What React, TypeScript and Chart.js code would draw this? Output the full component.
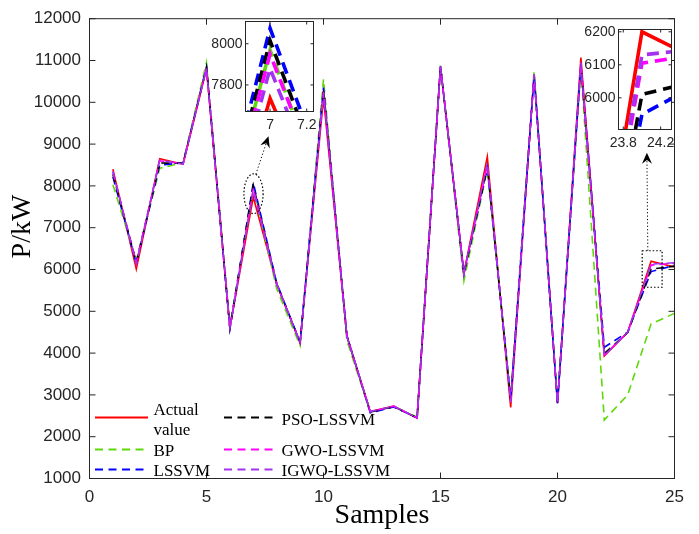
import React, { useEffect, useRef } from 'react';
import { Chart, registerables } from 'chart.js';

Chart.register(...registerables);

// ---------------- data ----------------
const samples = [1, 2, 3, 4, 5, 6, 7, 8, 9, 10, 11, 12, 13, 14, 15, 16, 17, 18, 19, 20, 21, 22, 23, 24, 25];
const actualValue = [8400, 6010, 8650, 8520, 10800, 4600, 7735, 5650, 4250, 10100, 4400, 2600, 2730, 2450, 10850, 5920, 8700, 2700, 10670, 2800, 11070, 3930, 4500, 6200, 6060];
const bpValues = [8030, 6220, 8420, 8560, 10950, 4650, 7970, 5540, 4180, 10550, 4300, 2580, 2720, 2470, 10880, 5730, 8400, 2950, 10750, 2820, 10820, 2400, 3000, 4700, 4950];
const lssvmValues = [8220, 6150, 8500, 8550, 10850, 4580, 8075, 5680, 4260, 10350, 4420, 2570, 2710, 2450, 10860, 5880, 8430, 2900, 10650, 2800, 10900, 4140, 4500, 5950, 6100];
const psoValues = [8280, 6170, 8550, 8540, 10830, 4600, 8015, 5660, 4250, 10320, 4410, 2590, 2720, 2450, 10850, 5900, 8450, 2880, 10660, 2800, 10880, 3990, 4490, 6010, 6080];
const gwoValues = [8330, 6160, 8600, 8530, 10820, 4600, 7950, 5650, 4250, 10250, 4400, 2600, 2730, 2450, 10850, 5910, 8500, 2850, 10670, 2800, 10920, 3950, 4500, 6105, 6150];
const igwoValues = [8350, 6130, 8620, 8520, 10810, 4600, 7880, 5650, 4250, 10220, 4400, 2600, 2730, 2450, 10850, 5915, 8550, 2820, 10670, 2800, 10950, 3940, 4500, 6130, 6160];

const seriesLabels = ['Actual value', 'BP', 'LSSVM', 'PSO-LSSVM', 'GWO-LSSVM', 'IGWO-LSSVM'];
const seriesColors = ['#ff0000', '#5fd80a', '#0000ff', '#000000', '#ff00ff', '#a333f0'];
const series = [actualValue, bpValues, lssvmValues, psoValues, gwoValues, igwoValues];

const mainXTicks = [0, 5, 10, 15, 20, 25];
const mainYTicks = [1000, 2000, 3000, 4000, 5000, 6000, 7000, 8000, 9000, 10000, 11000, 12000];
const inset1XTicks = [7, 7.2];
const inset1YTicks = [7800, 8000];
const inset2XTicks = [23.8, 24.2];
const inset2YTicks = [6000, 6100, 6200];

const xTitle = 'Samples';
const yTitle = 'P/kW';

const SANS = '"Liberation Sans", Arial, sans-serif';
const SERIF = '"Liberation Serif", "Times New Roman", serif';
const AXIS_COLOR = '#262626';

function makeDatasets(width: number, dash: number[]) {
  return series.map((vals, i) => ({
    label: seriesLabels[i],
    data: samples.map((s, j) => ({ x: s, y: vals[j] })),
    borderColor: seriesColors[i],
    backgroundColor: seriesColors[i],
    borderWidth: width,
    borderDash: i === 0 ? [] : dash,
    pointRadius: 0,
    tension: 0,
    fill: false,
    order: series.length - 1 - i,
    clip: 0,
  }));
}

const fmt = (v: any) => `${+Number(v).toFixed(1)}`;

function framePlugin(xt: number[], yt: number[], len: number) {
  return {
    id: 'frame',
    beforeDraw(chart: any) {
      const { ctx, chartArea: a } = chart;
      ctx.save();
      ctx.fillStyle = '#ffffff';
      ctx.fillRect(a.left, a.top, a.right - a.left, a.bottom - a.top);
      ctx.restore();
    },
    afterDraw(chart: any) {
      const { ctx, chartArea: a, scales } = chart;
      ctx.save();
      ctx.strokeStyle = AXIS_COLOR;
      ctx.lineWidth = 1;
      ctx.setLineDash([]);
      ctx.strokeRect(a.left, a.top, a.right - a.left, a.bottom - a.top);
      ctx.beginPath();
      xt.forEach((v) => {
        const p = scales.x.getPixelForValue(v);
        ctx.moveTo(p, a.bottom);
        ctx.lineTo(p, a.bottom - len);
        ctx.moveTo(p, a.top);
        ctx.lineTo(p, a.top + len);
      });
      yt.forEach((v) => {
        const p = scales.y.getPixelForValue(v);
        ctx.moveTo(a.left, p);
        ctx.lineTo(a.left + len, p);
        ctx.moveTo(a.right, p);
        ctx.lineTo(a.right - len, p);
      });
      ctx.stroke();
      ctx.restore();
    },
  };
}

function drawArrow(ctx: CanvasRenderingContext2D, x0: number, y0: number, x1: number, y1: number) {
  const dx = x1 - x0;
  const dy = y1 - y0;
  const l = Math.hypot(dx, dy);
  const ux = dx / l;
  const uy = dy / l;
  const nx = -uy;
  const ny = ux;
  const L = 11;
  const W = 5;
  const nxp = x1 - ux * L * 0.65;
  const nyp = y1 - uy * L * 0.65;
  ctx.save();
  ctx.strokeStyle = '#000';
  ctx.lineWidth = 1;
  ctx.setLineDash([1.2, 2.2]);
  ctx.beginPath();
  ctx.moveTo(x0, y0);
  ctx.lineTo(nxp, nyp);
  ctx.stroke();
  ctx.setLineDash([]);
  ctx.fillStyle = '#000';
  ctx.beginPath();
  ctx.moveTo(x1, y1);
  ctx.lineTo(x1 - ux * L + nx * W, y1 - uy * L + ny * W);
  ctx.lineTo(nxp, nyp);
  ctx.lineTo(x1 - ux * L - nx * W, y1 - uy * L - ny * W);
  ctx.closePath();
  ctx.fill();
  ctx.restore();
}

const mainDecor = {
  id: 'mainDecor',
  afterDraw(chart: any) {
    const { ctx, chartArea: a, scales } = chart;
    const X = (v: number) => scales.x.getPixelForValue(v);
    const Y = (v: number) => scales.y.getPixelForValue(v);
    ctx.save();

    // zoom markers
    ctx.strokeStyle = '#000';
    ctx.lineWidth = 1.2;
    ctx.setLineDash([1.5, 2]);
    ctx.beginPath();
    const cx = X(7.01), cy = Y(7813);
    ctx.ellipse(cx, cy, X(7.42) - X(7.01), Y(7813) - Y(8289), 0, 0, Math.PI * 2);
    ctx.stroke();
    ctx.beginPath();
    ctx.rect(X(23.62), Y(6449), X(24.47) - X(23.62), Y(5575) - Y(6449));
    ctx.stroke();
    ctx.restore();
    drawArrow(ctx, X(7.11), Y(8281), X(7.65), Y(9185));
    drawArrow(ctx, X(23.86), Y(6449), X(23.82), Y(8793));

    // legend
    ctx.save();
    const rowsLine = [a.bottom - 61, a.bottom - 29, a.bottom - 9];
    const rowsText = [a.bottom - 54, a.bottom - 22.5, a.bottom - 2.5];
    ctx.font = `17px ${SERIF}`;
    ctx.textBaseline = 'alphabetic';
    ctx.textAlign = 'left';
    seriesLabels.forEach((lab, i) => {
      const col = i < 3 ? 0 : 1;
      const row = i % 3;
      const x0 = col === 0 ? a.left + 5.5 : a.left + 134.5;
      const x1 = col === 0 ? a.left + 58.5 : a.left + 184;
      const tx = col === 0 ? a.left + 64 : a.left + 192;
      ctx.strokeStyle = seriesColors[i];
      ctx.lineWidth = 1.8;
      ctx.setLineDash(i === 0 ? [] : [8, 5.5]);
      ctx.beginPath();
      ctx.moveTo(x0, rowsLine[row]);
      ctx.lineTo(x1, rowsLine[row]);
      ctx.stroke();
      ctx.fillStyle = '#000';
      if (i === 0) {
        const parts = lab.split(' ');
        ctx.fillText(parts[0], tx, a.bottom - 64);
        ctx.fillText(parts[1], tx, a.bottom - 44);
      } else {
        ctx.fillText(lab, tx, rowsText[row]);
      }
    });
    ctx.restore();

    // axis titles
    ctx.save();
    ctx.fillStyle = '#000';
    ctx.font = `28px ${SERIF}`;
    ctx.textAlign = 'center';
    ctx.textBaseline = 'middle';
    ctx.fillText(xTitle, (a.left + a.right) / 2, 516);
    ctx.translate(23, 226.5);
    ctx.rotate(-Math.PI / 2);
    ctx.fillText(yTitle, 0, 0);
    ctx.restore();
  },
};

function insetOptions(xmin: number, xmax: number, ymin: number, ymax: number, xt: number[], yt: number[], pad: any, yW: number, xH: number) {
  return {
    responsive: false,
    animation: false as const,
    events: [],
    layout: { padding: pad },
    plugins: { legend: { display: false }, tooltip: { enabled: false } },
    scales: {
      x: {
        type: 'linear' as const,
        min: xmin,
        max: xmax,
        grid: { display: false, drawTicks: false },
        border: { display: false },
        afterBuildTicks: (s: any) => { s.ticks = xt.map((v) => ({ value: v })); },
        afterFit: (s: any) => { s.height = xH; },
        ticks: { font: { family: SANS, size: 14 }, color: AXIS_COLOR, padding: 5, maxRotation: 0, autoSkip: false, callback: fmt },
      },
      y: {
        type: 'linear' as const,
        min: ymin,
        max: ymax,
        grid: { display: false, drawTicks: false },
        border: { display: false },
        afterBuildTicks: (s: any) => { s.ticks = yt.map((v) => ({ value: v })); },
        afterFit: (s: any) => { s.width = yW; },
        ticks: { font: { family: SANS, size: 14 }, color: AXIS_COLOR, padding: 3, autoSkip: false, callback: fmt },
      },
    },
  };
}

export default function App() {
  const mainRef = useRef<HTMLCanvasElement>(null);
  const in1Ref = useRef<HTMLCanvasElement>(null);
  const in2Ref = useRef<HTMLCanvasElement>(null);

  useEffect(() => {
    const charts: Chart[] = [];
    charts.push(
      new Chart(mainRef.current as HTMLCanvasElement, {
        type: 'line',
        data: { datasets: makeDatasets(1.6, [8, 5]) as any },
        options: {
          responsive: false,
          animation: false,
          events: [],
          layout: { padding: { left: 0, top: 16.5, right: 24.5, bottom: 0 } },
          plugins: { legend: { display: false }, tooltip: { enabled: false } },
          scales: {
            x: {
              type: 'linear',
              min: 0,
              max: 25,
              grid: { display: false, drawTicks: false },
              border: { display: false },
              afterBuildTicks: (s: any) => { s.ticks = mainXTicks.map((v) => ({ value: v })); },
              afterFit: (s: any) => { s.height = 55.5; },
              ticks: { font: { family: SANS, size: 17 }, color: AXIS_COLOR, padding: 9, maxRotation: 0, autoSkip: false, callback: fmt },
            },
            y: {
              type: 'linear',
              min: 1000,
              max: 12000,
              grid: { display: false, drawTicks: false },
              border: { display: false },
              afterBuildTicks: (s: any) => { s.ticks = mainYTicks.map((v) => ({ value: v })); },
              afterFit: (s: any) => { s.width = 89.5; },
              ticks: { font: { family: SANS, size: 17 }, color: AXIS_COLOR, padding: 8.5, autoSkip: false, callback: fmt },
            },
          },
        } as any,
        plugins: [framePlugin(mainXTicks, mainYTicks, 6), mainDecor],
      })
    );
    charts.push(
      new Chart(in1Ref.current as HTMLCanvasElement, {
        type: 'line',
        data: { datasets: makeDatasets(3.6, [12, 7]) as any },
        options: insetOptions(6.866, 7.237, 7671, 8108, inset1XTicks, inset1YTicks, { left: 0, top: 13.5, right: 11.5, bottom: 0 }, 45.5, 31.5) as any,
        plugins: [framePlugin(inset1XTicks, inset1YTicks, 3)],
      })
    );
    charts.push(
      new Chart(in2Ref.current as HTMLCanvasElement, {
        type: 'line',
        data: { datasets: makeDatasets(3.6, [12, 7]) as any },
        options: insetOptions(23.749, 24.316, 5904, 6207, inset2XTicks, inset2YTicks, { left: 0, top: 15.5, right: 23.5, bottom: 0 }, 48.5, 24.5) as any,
        plugins: [framePlugin(inset2XTicks, inset2YTicks, 3)],
      })
    );
    return () => charts.forEach((c) => c.destroy());
  }, []);

  return (
    <div style={{ position: 'absolute', left: 0, top: 0, width: 699, height: 534, background: '#ffffff' }}>
      <canvas ref={mainRef} width={699} height={534} style={{ position: 'absolute', left: 0, top: 0 }} />
      <canvas ref={in1Ref} width={125} height={135} style={{ position: 'absolute', left: 200, top: 8 }} />
      <canvas ref={in2Ref} width={125} height={140} style={{ position: 'absolute', left: 570, top: 14 }} />
    </div>
  );
}
